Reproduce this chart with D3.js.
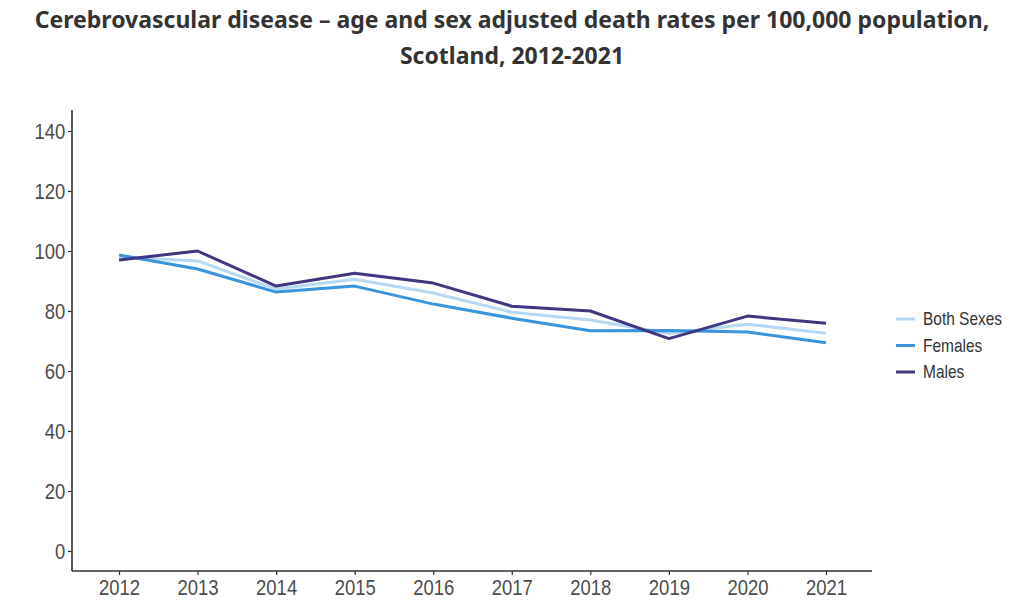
<!DOCTYPE html>
<html><head><meta charset="utf-8">
<script src="https://cdn.jsdelivr.net/npm/d3@7"></script>
<style>body{margin:0;background:#fff;} svg{display:block;}</style>
</head><body>
<script>
const years = [2012,2013,2014,2015,2016,2017,2018,2019,2020,2021];
const bothSexes = [98.0,96.7,87.3,90.6,86.0,79.6,77.0,72.5,75.6,72.6];
const females = [98.7,94.0,86.3,88.3,82.3,77.6,73.4,73.5,73.0,69.4];
const males = [97.0,100.0,88.3,92.6,89.3,81.6,80.0,70.8,78.3,75.9];
const yTicks = [0,20,40,60,80,100,120,140];
const seriesNames = ["Both Sexes","Females","Males"];
const seriesColors = ["#b7d8f2","#3a94dc","#403682"];
const titleLines = ["Cerebrovascular disease \u2013 age and sex adjusted death rates per 100,000 population,","Scotland, 2012-2021"];

const W=1024,H=612;
const svg=d3.select("body").append("svg").attr("width",W).attr("height",H);

svg.selectAll("text.title").data(titleLines).enter().append("text")
  .attr("x",512).attr("y",(d,i)=>28+i*36).attr("text-anchor","middle")
  .style("font-family","'Noto Sans',sans-serif").style("font-weight","bold")
  .style("font-size","23px").style("fill","#333")
  .text(d=>d);

const x=d3.scalePoint().domain(years).range([119,826]);
const y=d3.scaleLinear().domain([0,140]).range([551,131]);

const axFont="'Liberation Sans',Arial,sans-serif";

const gy=svg.append("g").attr("transform","translate(72,0)")
  .call(d3.axisLeft(y).tickValues(yTicks).tickSize(4).tickPadding(4).tickFormat(d3.format("d")));
gy.select(".domain").attr("d","M0,110V571");
const gx=svg.append("g").attr("transform","translate(0,571)")
  .call(d3.axisBottom(x).tickSize(4).tickPadding(4).tickFormat(d3.format("d")));
gx.select(".domain").attr("d","M72,0H872");
[gx,gy].forEach(g=>{
  g.select(".domain").attr("stroke","#333").attr("stroke-width",1.6);
  g.selectAll(".tick line").attr("stroke","#333").attr("stroke-width",1.2);
  g.selectAll(".tick text").style("font-family",axFont).style("font-size","22px").style("fill","#4d4d4d")
    .attr("transform","scale(0.84,1)");
});

const allSeries=[bothSexes,females,males];
const line=d3.line().x((d,i)=>x(years[i])).y(d=>y(d));
svg.selectAll("path.series").data(allSeries).enter().append("path")
  .attr("d",line).attr("fill","none")
  .attr("stroke",(d,i)=>seriesColors[i]).attr("stroke-width",3)
  .attr("stroke-linejoin","round");

const lg=svg.append("g");
seriesNames.forEach((n,i)=>{
  lg.append("line").attr("x1",896).attr("x2",915).attr("y1",319+i*26.5).attr("y2",319+i*26.5)
    .attr("stroke",seriesColors[i]).attr("stroke-width",3);
  lg.append("text").attr("transform",`translate(923,${319+i*26.5}) scale(0.86,1)`).attr("dy","0.35em")
    .style("font-family",axFont).style("font-size","18px").style("fill","#333").text(n);
});
</script>
</body></html>
